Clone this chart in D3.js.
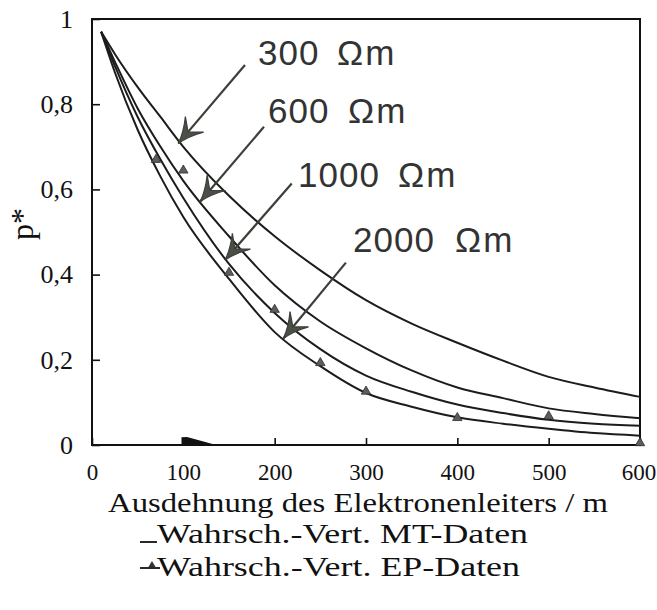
<!DOCTYPE html>
<html><head><meta charset="utf-8">
<script src="https://cdn.jsdelivr.net/npm/d3@7/dist/d3.min.js"></script>
<style>html,body{margin:0;padding:0;background:#fff}</style>
</head><body>
<svg id="c" width="657" height="610"></svg>
<script>
// ---- data ----
const xs      = [10, 25, 50, 75, 100, 150, 200, 250, 300, 350, 400, 450, 500, 550, 600];
const mt300   = [0.97, 0.918, 0.84, 0.77, 0.70, 0.585, 0.49, 0.41, 0.34, 0.285, 0.24, 0.198, 0.16, 0.135, 0.113];
const mt600   = [0.97, 0.90, 0.79, 0.70, 0.62, 0.49, 0.375, 0.29, 0.227, 0.175, 0.135, 0.11, 0.086, 0.073, 0.063];
const mt1000  = [0.97, 0.89, 0.77, 0.67, 0.58, 0.425, 0.31, 0.225, 0.163, 0.125, 0.095, 0.075, 0.059, 0.05, 0.045];
const mt2000  = [0.97, 0.875, 0.74, 0.63, 0.535, 0.39, 0.265, 0.185, 0.122, 0.09, 0.065, 0.05, 0.038, 0.028, 0.022];
const epX     = [70, 100, 150, 200, 250, 300, 400, 500, 600];
const epY     = [0.665, 0.64, 0.40, 0.313, 0.188, 0.121, 0.059, 0.063, 0.0];
const seriesLabels = ["300", "600", "1000", "2000"];
const unitLabel = "Ωm";
// arrow start / tip in data units [x, p]
const arrowStart = [[167.5, 0.892], [188.3, 0.747], [218.7, 0.614], [278, 0.428]];
const arrowTip   = [[94.5, 0.708], [118.3, 0.571], [145.6, 0.434], [209.5, 0.25]];
const xTicks = [0, 100, 200, 300, 400, 500, 600];
const xTickLabels = ["0", "100", "200", "300", "400", "500", "600"];
const yTicks = [0, 0.2, 0.4, 0.6, 0.8, 1];
const yTickLabels = ["0", "0,2", "0,4", "0,6", "0,8", "1"];
const xTitle = "Ausdehnung des Elektronenleiters / m";
const yTitle = "p*";
const legendLabels = ["Wahrsch.-Vert. MT-Daten", "Wahrsch.-Vert. EP-Daten"];
const wedge = [[98, 0], [98, 0.018], [104, 0.019], [136, 0]];

// ---- layout ----
const L = 92, R = 640, T = 19, B = 445;
const labelPos = [[258, 65, 337], [268, 123, 348], [298, 187, 398], [353, 252, 455]];
const serif = "Liberation Serif, Times New Roman, serif";

const svg = d3.select("#c");
const x = d3.scaleLinear().domain([0, 600]).range([L, R]);
const y = d3.scaleLinear().domain([0, 1]).range([B, T]);

// axes
const yAxis = d3.axisLeft(y).tickValues(yTicks).tickSize(-8).tickPadding(19)
  .tickFormat((d, i) => yTickLabels[i]);
const gy = svg.append("g").attr("transform", `translate(${L},0)`).call(yAxis);
gy.select(".domain").remove();
gy.selectAll("line").attr("stroke", "#111").attr("stroke-width", 1.6);
gy.selectAll("text").attr("font-family", serif).attr("font-size", 26).attr("fill", "#111");

const xAxis = d3.axisBottom(x).tickValues(xTicks).tickSize(-7).tickPadding(19)
  .tickFormat((d, i) => xTickLabels[i]);
const gx = svg.append("g").attr("transform", `translate(0,${B})`).call(xAxis);
gx.select(".domain").remove();
gx.selectAll("line").attr("stroke", "#111").attr("stroke-width", 1.6);
gx.selectAll("text").attr("font-family", serif).attr("font-size", 23).attr("fill", "#111");
gx.selectAll(".tick").filter(d => d === 600).select("text").attr("x", -1.5);

// frame
svg.append("rect").attr("x", L).attr("y", T).attr("width", R - L).attr("height", B - T)
  .attr("fill", "none").attr("stroke", "#111").attr("stroke-width", 2);

// curves
const line = d3.line().x(d => x(d[0])).y(d => y(d[1])).curve(d3.curveMonotoneX);
[mt300, mt600, mt1000, mt2000].forEach(s => {
  svg.append("path").datum(xs.map((v, i) => [v, s[i]])).attr("d", line)
    .attr("fill", "none").attr("stroke", "#1c1c1c").attr("stroke-width", 2);
});

// wedge on x axis
svg.append("path").datum(wedge)
  .attr("d", d3.line().x(d => x(d[0])).y(d => y(d[1])))
  .attr("fill", "#111");

// EP triangles
const tri = d3.symbol().type(d3.symbolTriangle).size(38);
svg.append("g").selectAll("path").data(epX.map((v, i) => [v, epY[i]])).join("path")
  .attr("d", tri).attr("transform", d => `translate(${x(d[0])},${y(d[1]) - 2})`)
  .attr("fill", "#5a5f58").attr("stroke", "#2a2d29").attr("stroke-width", 0.8);

// arrows
const arrowCol = "#3b4038";
arrowStart.forEach((s, i) => {
  const x0 = x(s[0]), y0 = y(s[1]), x1 = x(arrowTip[i][0]), y1 = y(arrowTip[i][1]);
  const ang = Math.atan2(y0 - y1, x0 - x1) * 180 / Math.PI;
  svg.append("line").attr("x1", x0).attr("y1", y0).attr("x2", x1).attr("y2", y1)
    .attr("stroke", arrowCol).attr("stroke-width", 2.2);
  svg.append("path")
    .attr("d", "M0,0 Q12,-3 25,-12 L15,0 L25,12 Q12,3 0,0 Z")
    .attr("transform", `translate(${x1},${y1}) rotate(${ang})`)
    .attr("fill", "#4a5047").attr("stroke", arrowCol).attr("stroke-width", 1.2);
});

// series labels
seriesLabels.forEach((t, i) => {
  const p = labelPos[i];
  const tx = svg.append("text").attr("y", p[1])
    .attr("font-family", "Liberation Sans, Arial, sans-serif").attr("font-size", 35)
    .attr("fill", "#333");
  tx.append("tspan").attr("x", p[0]).attr("letter-spacing", 1).text(t);
  tx.append("tspan").attr("x", p[2]).attr("letter-spacing", 2).text(unitLabel);
});

// axis titles
svg.append("text").attr("x", 108).attr("y", 512)
  .attr("font-family", serif).attr("font-size", 28)
  .attr("textLength", 500).attr("lengthAdjust", "spacingAndGlyphs")
  .attr("fill", "#111").text(xTitle);
svg.append("text").attr("transform", "translate(33,240) rotate(-90)")
  .attr("font-family", serif).attr("font-size", 32)
  .attr("fill", "#111").text(yTitle);

// legend
svg.append("line").attr("x1", 140).attr("x2", 157).attr("y1", 542).attr("y2", 542)
  .attr("stroke", "#111").attr("stroke-width", 1.8);
svg.append("text").attr("x", 157).attr("y", 543)
  .attr("font-family", serif).attr("font-size", 28)
  .attr("textLength", 371).attr("lengthAdjust", "spacingAndGlyphs")
  .attr("fill", "#111").text(legendLabels[0]);
svg.append("line").attr("x1", 140).attr("x2", 160).attr("y1", 568).attr("y2", 568)
  .attr("stroke", "#111").attr("stroke-width", 1.8);
svg.append("path").attr("d", d3.symbol().type(d3.symbolTriangle).size(22))
  .attr("transform", "translate(152,565)").attr("fill", "#333");
svg.append("text").attr("x", 157).attr("y", 576)
  .attr("font-family", serif).attr("font-size", 28)
  .attr("textLength", 363).attr("lengthAdjust", "spacingAndGlyphs")
  .attr("fill", "#111").text(legendLabels[1]);
</script>
</body></html>
